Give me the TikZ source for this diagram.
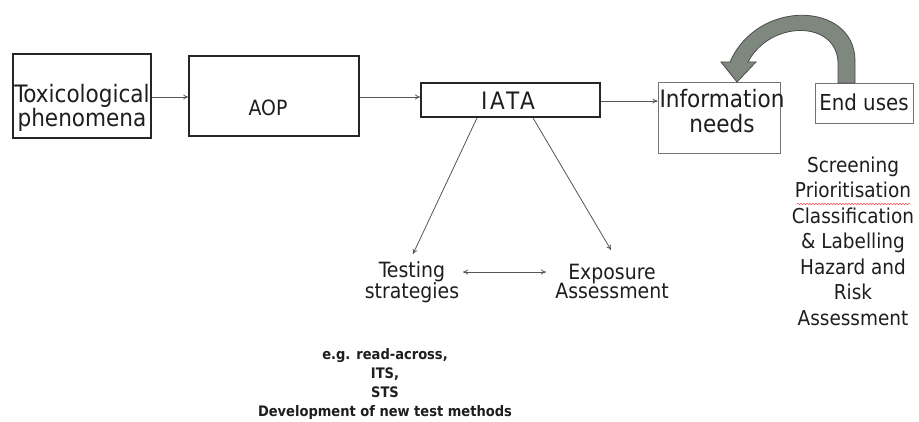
\documentclass[tikz,border=0pt]{standalone}
\usepackage{fontspec}
\setmainfont{DejaVu Sans Condensed}
\usetikzlibrary{arrows.meta,calc,decorations.pathmorphing}
\definecolor{txt}{HTML}{1E1E1E}
\definecolor{ln}{HTML}{555555}
\definecolor{arcfill}{HTML}{7E887E}
\begin{document}
\begin{tikzpicture}[x=1pt,y=-1pt,
  box/.style={draw=black!85,rectangle,inner sep=0pt},
  lbl/.style={inner sep=0pt,align=center,text=txt,anchor=base},
  conn/.style={draw=ln,line width=0.8pt,-{To[length=5pt,width=5pt]}},
]
\useasboundingbox[fill=white] (0,0) rectangle (919,422);
% boxes
\node[box,line width=2pt,minimum width=138pt,minimum height=84pt] (tox) at (82,96) {};
\node[box,line width=1.6pt,minimum width=170pt,minimum height=80pt] (aop) at (274,96) {};
\node[box,line width=1.8pt,minimum width=179pt,minimum height=34pt] (iata) at (510.5,100) {};
\node[box,draw=black!55,line width=0.9pt,minimum width=122pt,minimum height=71pt] (info) at (719,117.5) {};
\node[box,draw=black!55,line width=0.9pt,minimum width=98pt,minimum height=40pt] (end) at (864,103) {};
% texts (anchor base = baseline of last line)
\node[lbl,font=\fontsize{24}{21}\selectfont] (toxt) at (82,127) {Toxicological\\phenomena};
\node[lbl,font=\fontsize{21}{21}\selectfont] (aopt) at (268,116) {AOP};
\node[lbl,font=\fontsize{24}{24}\selectfont\addfontfeature{LetterSpace=12}] (iatat) at (508,110) {IATA};
\node[lbl,font=\fontsize{24}{25}\selectfont] (infot) at (722,133) {Information\\needs};
\node[lbl,font=\fontsize{22}{22}\selectfont] (endt) at (864,111) {End uses};
\node[lbl,font=\fontsize{20.5}{25.5}\selectfont] (uses) at (853,325) {Screening\\Prioritisation\\Classification\\\& Labelling\\Hazard and\\Risk\\Assessment};
\node[lbl,font=\fontsize{21}{20}\selectfont] (test) at (412,299) {Testing\\strategies};
\node[lbl,font=\fontsize{21}{20}\selectfont] (expo) at (612,299) {Exposure\\Assessment};
\node[lbl,font=\bfseries\fontsize{14.5}{19}\selectfont] (eg) at (385,416) {e.g. read-across,\\ITS,\\STS\\Development of new test methods};
% connectors
\draw[conn] (tox.east |- 0,97) -- (aop.west |- 0,97);
\draw[conn] (aop.east |- 0,97) -- (iata.west |- 0,97);
\draw[conn] (iata.east |- 0,101) -- (info.west |- 0,101);
\coordinate (l1) at ($(iata.south)+(-33.5,0)$);
\coordinate (r1) at ($(iata.south)+(22.5,0)$);
\coordinate (tl) at (413,254);
\coordinate (tr) at (611,250);
\draw[conn] (l1) -- (tl);
\draw[conn] (r1) -- (tr);
\coordinate (dl) at (463,272);
\coordinate (dr) at (546,272);
\draw[draw=ln,line width=0.8pt,{To[length=5pt,width=5pt]}-{To[length=5pt,width=5pt]}] (dl) -- (dr);
% spell-check squiggle
\draw[red!70,line width=0.5pt,decorate,decoration={snake,amplitude=0.7pt,segment length=3pt}] (797,204) -- (910,204);
% curved block arrow
\draw[draw=black!70,fill=arcfill,line width=0.8pt]
  (855,83) -- (855,60) .. controls (854,2) and (758,-2) .. (730,62)
  -- (721,62) -- (737,82) -- (756,62) -- (748,62)
  .. controls (770,20) and (836,20) .. (838,62) -- (838,83) -- cycle;
\end{tikzpicture}
\end{document}
